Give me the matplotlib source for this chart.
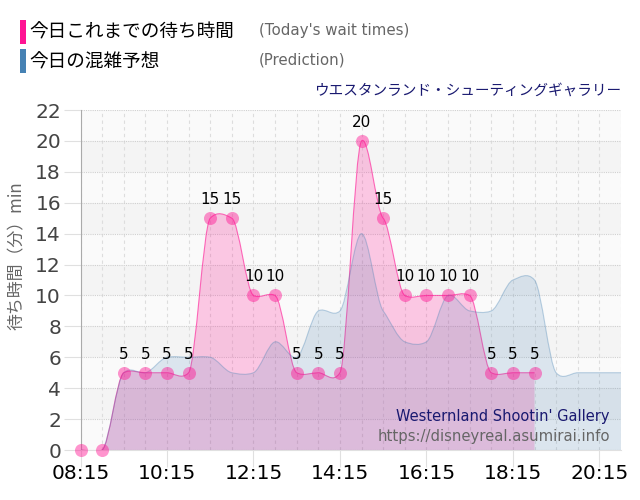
#!/usr/bin/python3
#-*- coding:utf-8 -*-

import matplotlib
matplotlib.use('Agg')
import matplotlib.pyplot as plt
from matplotlib.patches import PathPatch, Rectangle
from matplotlib.path import Path

plt.rcParams['font.family'] = ['DejaVu Sans', 'Noto Sans CJK JP']

JP = ['Noto Sans CJK JP', 'DejaVu Sans']

# one value every 30 minutes starting at 08:15
wait_times = [0, 0, 5, 5, 5, 5, 15, 15, 10, 10, 5, 5, 5, 20, 15, 10, 10, 10, 10, 5, 5, 5]
prediction = [0, 0, 5, 5, 6, 6, 6, 5, 5, 7, 6, 9, 9, 14, 9, 7, 7, 10, 9, 9, 11, 11, 5, 5, 5, 5]
labelled_from = 2
x_tick_pos = [0, 4, 8, 12, 16, 20, 24]
x_tick_labels = ['08:15', '10:15', '12:15', '14:15', '16:15', '18:15', '20:15']
y_ticks = list(range(0, 23, 2))
title_jp = 'ウエスタンランド・シューティングギャラリー'
title_en = "Westernland Shootin' Gallery"
site_url = 'https://disneyreal.asumirai.info'
y_title = '待ち時間（分）min'
legend_jp = ['今日これまでの待ち時間', '今日の混雑予想']
legend_en = ["(Today's wait times)", '(Prediction)']


def smooth_path(values, tension, close=True):
    # catmull-rom style bezier through the points
    n = len(values)
    verts = [(0, values[0])]
    codes = [Path.MOVETO]
    for i in range(n - 1):
        y0 = values[max(i - 1, 0)]
        y1 = values[i]
        y2 = values[i + 1]
        y3 = values[min(i + 2, n - 1)]
        verts += [(i + 0.33, y1 + (y2 - y0) * tension),
                  (i + 0.67, y2 - (y3 - y1) * tension),
                  (i + 1, y2)]
        codes += [Path.CURVE4] * 3
    if close:
        verts += [(n - 1, 0), (0, 0), (0, values[0])]
        codes += [Path.LINETO, Path.LINETO, Path.CLOSEPOLY]
    return Path(verts, codes)


def draw_series(ax, values, tension, color, fill_alpha, line_alpha, z):
    ax.add_patch(PathPatch(smooth_path(values, tension), facecolor=color, edgecolor='none',
                           alpha=fill_alpha, zorder=z))
    ax.add_patch(PathPatch(smooth_path(values, tension, close=False), facecolor='none', edgecolor=color,
                           alpha=line_alpha, linewidth=0.8, zorder=z))


fig = plt.figure(figsize=(6.4, 5), dpi=100)
ax = fig.add_axes([80.5 / 640, 1 - 450 / 500, 540.5 / 640, 340 / 500])
ax.set_xlim(0, 25)
ax.set_ylim(0, 22)

# alternating bands
for i, y in enumerate(y_ticks[:-1]):
    ax.axhspan(y, y + 2, color='#f4f4f4' if i % 2 == 1 else '#fafafa', linewidth=0, zorder=0)

ax.set_xticks(x_tick_pos)
ax.set_xticklabels(x_tick_labels, fontsize=14.5, color='black')
ax.set_xticks(range(26), minor=True)
ax.set_yticks(y_ticks)
ax.tick_params(axis='x', which='major', length=12, color='#e0e0e0', pad=-2)
ax.tick_params(axis='x', which='minor', length=0)
ax.tick_params(axis='y', length=12, color='#e0e0e0', labelsize=14.5, labelcolor='#444444', pad=2)
ax.grid(True, axis='x', which='both', color='#dddddd', linestyle=(0, (3, 3)), linewidth=0.8, zorder=1)
ax.grid(True, axis='y', which='major', color='#d0d0d0', linestyle=(0, (1, 1)), linewidth=0.8, zorder=1)
ax.set_axisbelow(True)

for side in ['top', 'right']:
    ax.spines[side].set_visible(False)
ax.spines['left'].set_color('#aaaaaa')
ax.spines['bottom'].set_color('#e0e0e0')

draw_series(ax, wait_times, 0.05, '#ff1493', 0.22, 0.6, 2)
draw_series(ax, prediction, 0.09, '#4682b4', 0.17, 0.35, 3)

ax.plot(range(len(wait_times)), wait_times, linestyle='none', marker='o', markersize=9.4,
        markerfacecolor='#ff1493', markeredgewidth=0, alpha=0.45, clip_on=False, zorder=4)

for i, v in enumerate(wait_times):
    if i >= labelled_from:
        ax.annotate(str(v), (i, v), xytext=(0, 8), textcoords='offset points', ha='center',
                    va='bottom', fontsize=11, color='black', zorder=5)

fig.text(17 / 640, 1 - 256 / 500, y_title, fontsize=12.2, color='#666666', family=JP,
         rotation=90, ha='center', va='center')

# legend made by hand above the chart
for y, color, jp, en, ty in zip([20, 49], ['#ff1493', '#4682b4'], legend_jp, legend_en, [33, 63]):
    fig.add_artist(Rectangle((20 / 640, 1 - (y + 24) / 500), 6 / 640, 24 / 500, facecolor=color,
                             edgecolor='none', transform=fig.transFigure))
    fig.text(29 / 640, 1 - ty / 500, jp, fontsize=13.4, family=JP, va='center', color='black')
    fig.text(259 / 640, 1 - (y + 11) / 500, en, fontsize=10.8, va='center', color='#666666')

fig.text(621 / 640, 1 - 91 / 500, title_jp, fontsize=10.55, family=JP, ha='right', va='center',
         color='#191970')
fig.text(610 / 640, 1 - 416 / 500, title_en, fontsize=10.5, ha='right', va='center', color='#191970')
fig.text(610 / 640, 1 - 436 / 500, site_url, fontsize=10.7, ha='right', va='center', color='#666666')

fig.savefig('out.png', dpi=100)
